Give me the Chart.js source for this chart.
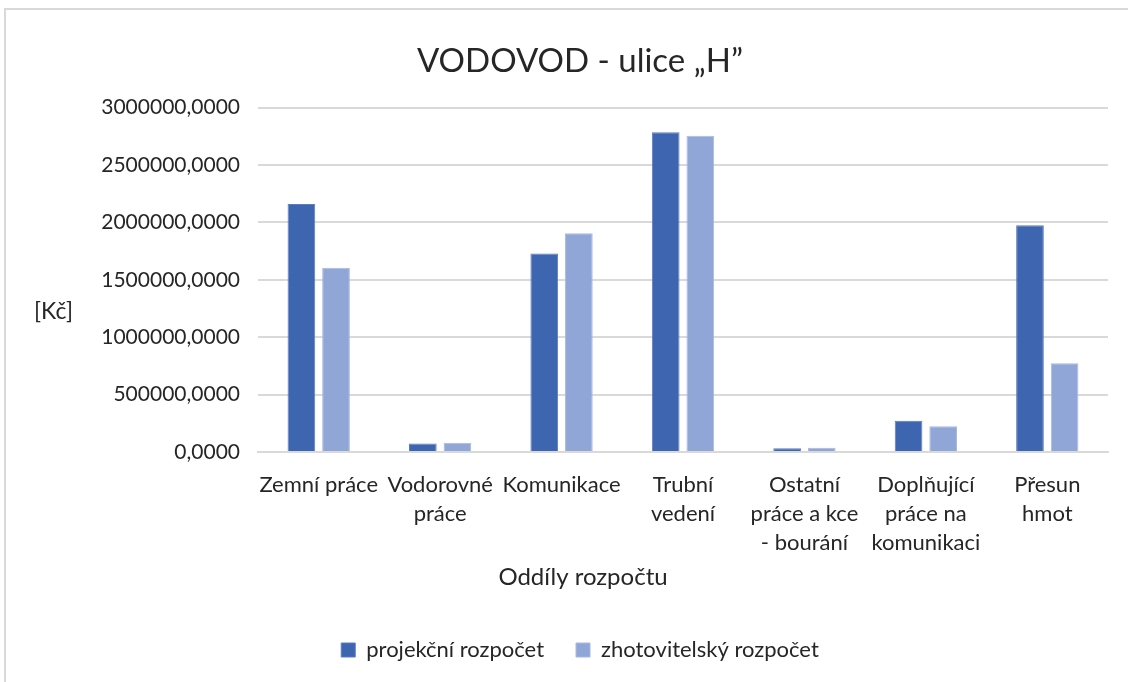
<!DOCTYPE html>
<html>
<head>
<meta charset="utf-8">
<script src="https://cdn.jsdelivr.net/npm/chart.js@4.4.1/dist/chart.umd.min.js"></script>
<style>
  html, body { margin: 0; padding: 0; background: #fff; }
  #wrap { position: relative; width: 1128px; height: 682px; overflow: hidden; }
  #frame { position: absolute; left: 4px; top: 8px; width: 1200px; height: 800px; border: 2px solid #d9d9d9; box-sizing: border-box; }
  canvas { position: absolute; left: 0; top: 0; }
</style>
</head>
<body>
<div id="wrap">
  <div id="frame"></div>
  <canvas id="c" width="1180" height="682"></canvas>
</div>
<script>
const titleText = 'VODOVOD - ulice \u201EH\u201D';
const yUnitLabel = '[Kč]';
const xAxisTitle = 'Oddíly rozpočtu';
const categories = [
  ['Zemní práce'],
  ['Vodorovné', 'práce'],
  ['Komunikace'],
  ['Trubní', 'vedení'],
  ['Ostatní', 'práce a kce', '- bourání'],
  ['Doplňující', 'práce na', 'komunikaci'],
  ['Přesun', 'hmot']
];
const seriesNames = ['projekční rozpočet', 'zhotovitelský rozpočet'];
const projekcni = [2160000, 75000, 1730000, 2785000, 33000, 272000, 1975000];
const zhotovitelsky = [1605000, 80000, 1905000, 2755000, 37000, 225000, 772000];
const yTicks = [0, 500000, 1000000, 1500000, 2000000, 2500000, 3000000];

const FONT = 'Lato, "Open Sans", sans-serif';
const TXT = '#262626';

const extraText = {
  id: 'extraText',
  afterDraw(chart) {
    const ctx = chart.ctx;
    ctx.save();
    ctx.fillStyle = TXT;
    ctx.textBaseline = 'middle';
    ctx.font = '23px ' + FONT;
    ctx.textAlign = 'left';
    ctx.fillText(yUnitLabel, 34, 312);
    ctx.font = '24px ' + FONT;
    ctx.textAlign = 'center';
    ctx.fillText(xAxisTitle, 583, 577);
    ctx.restore();
  }
};

new Chart(document.getElementById('c'), {
  type: 'bar',
  data: {
    labels: categories,
    datasets: [
      { label: seriesNames[0], data: projekcni, backgroundColor: '#3e65af', borderColor: '#5a7cc0', borderWidth: 1 },
      { label: seriesNames[1], data: zhotovitelsky, backgroundColor: '#8fa6d7', borderColor: '#a7b9e0', borderWidth: 1 }
    ]
  },
  options: {
    responsive: false,
    animation: false,
    devicePixelRatio: 1,
    layout: { padding: { left: 0, right: 20, top: 24, bottom: 11 } },
    datasets: { bar: { categoryPercentage: 0.57, barPercentage: 0.8 } },
    plugins: {
      title: {
        display: true, text: titleText, color: TXT,
        font: { family: FONT, size: 33, weight: 'normal', lineHeight: 1.2 },
        padding: { top: 18, bottom: 26 }
      },
      legend: {
        position: 'bottom',
        labels: {
          color: TXT, font: { family: FONT, size: 22 },
          boxWidth: 14, boxHeight: 14, padding: 32
        }
      },
      tooltip: { enabled: false }
    },
    scales: {
      x: {
        grid: { display: false, drawTicks: false },
        border: { display: true, color: '#d9d9d9', width: 2 },
        ticks: { color: TXT, font: { family: FONT, size: 22, lineHeight: 1.33 }, maxRotation: 0, autoSkip: false, padding: 18 },
        afterFit(scale) { scale.height = 155; }
      },
      y: {
        min: 0, max: 3000000,
        afterBuildTicks(scale) { scale.ticks = yTicks.map(v => ({ value: v })); },
        grid: { color: '#d9d9d9', lineWidth: 2, drawTicks: false },
        border: { display: false },
        ticks: {
          color: TXT, font: { family: FONT, size: 21 }, padding: 18,
          callback: v => v.toFixed(4).replace('.', ',')
        },
        afterFit(scale) { scale.width = 258; }
      },
      yRight: {
        position: 'right',
        display: true,
        grid: { display: false, drawTicks: false },
        border: { display: false },
        ticks: { display: false },
        afterFit(scale) { scale.width = 52; }
      }
    }
  },
  plugins: [extraText]
});
</script>
</body>
</html>
